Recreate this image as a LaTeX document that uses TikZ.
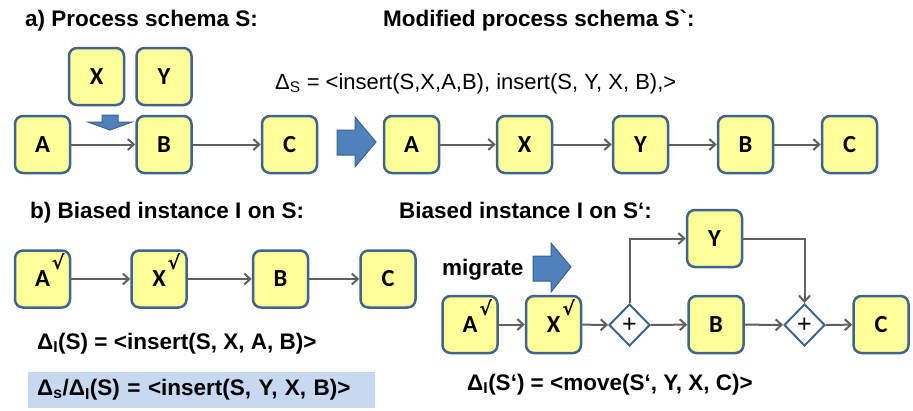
\documentclass[tikz,border=0pt]{standalone}
\usepackage{fontspec}
\setmainfont{Liberation Sans}
\newfontfamily\boxfont{Carlito}
\newfontfamily\symfont{DejaVu Sans}
\usetikzlibrary{arrows.meta,shapes.geometric}

\definecolor{taskfill}{HTML}{FFFF99}
\definecolor{taskline}{HTML}{41648F}
\definecolor{flowgray}{HTML}{606060}
\definecolor{shiftfill}{HTML}{4F81BD}
\definecolor{shiftline}{HTML}{3A6291}
\definecolor{deltabg}{HTML}{C6D9F1}

\newcommand{\done}{\rlap{\smash{\hspace{2pt}\raisebox{17pt}{\symfont\fontsize{19}{19}\selectfont √}}}}

\tikzset{
  task/.style={draw=taskline, line width=2.5pt, fill=taskfill, rounded corners=8pt,
    minimum width=55pt, minimum height=57pt, inner sep=0pt,
    font=\boxfont\bfseries\fontsize{24.5}{24.5}\selectfont},
  gate/.style={diamond, draw=taskline, line width=2pt, fill=white,
    minimum width=41pt, minimum height=42pt, inner sep=0pt,
    font=\fontsize{25}{25}\selectfont},
  flow/.style={draw=flowgray, line width=2pt, -{Straight Barb[length=6pt,width=11pt]}},
  heading/.style={anchor=base west, inner sep=0pt, font=\bfseries\fontsize{22.5}{26}\selectfont},
  delta/.style={anchor=base west, inner sep=0pt, font=\fontsize{22}{26}\selectfont},
  deltabold/.style={anchor=base west, inner sep=0pt, font=\bfseries\fontsize{22.5}{26}\selectfont},
  bigshift/.style={fill=shiftfill, draw=shiftline, line width=1pt}
}

\begin{document}
\begin{tikzpicture}[x=1pt,y=-1pt]
\useasboundingbox (0,0) rectangle (913,410);

\node[heading] (ta) at (25,26) {a) Process schema S:};
\node[heading] (tm) at (383,26) {Modified process schema S\textasciigrave:};
\node[heading] (tb) at (30,218) {b) Biased instance I on S:};
\node[heading] (tbm) at (399,218) {Biased instance I on S‘:};

\node[delta] (ds) at (275,89) {Δ\textsubscript{S} = <insert(S,X,A,B), insert(S, Y, X, B),>};

\node[task] (a1) at (42.5,144.5) {A};
\node[task] (x1) at (96.5,76.5) {X};
\node[task] (y1) at (164,76.5) {Y};
\node[task] (b1) at (164,144.5) {B};
\node[task] (c1) at (289.5,144.5) {C};
\draw[flow] (a1) -- (b1);
\draw[flow] (b1) -- (c1);
\draw[bigshift] (102,115) -- (118,115) -- (118,122) -- (132,122) -- (110,130) -- (88,122) -- (102,122) -- cycle;

\draw[bigshift] (337,130) -- (355,130) -- (355,117) -- (376,142) -- (355,167) -- (355,155) -- (337,155) -- cycle;

\node[task] (a2) at (411.5,144.5) {A};
\node[task] (x2) at (524.5,144.5) {X};
\node[task] (y2) at (640.5,144.5) {Y};
\node[task] (b2) at (745.5,144.5) {B};
\node[task] (c2) at (849.5,144.5) {C};
\draw[flow] (a2) -- (x2);
\draw[flow] (x2) -- (y2);
\draw[flow] (y2) -- (b2);
\draw[flow] (b2) -- (c2);

\node[task] (a3) at (42.5,279) {A\done};
\node[task] (x3) at (159,279) {X\done};
\node[task] (b3) at (280.5,279) {B};
\node[task] (c3) at (388,279) {C};
\draw[flow] (a3) -- (x3);
\draw[flow] (x3) -- (b3);
\draw[flow] (b3) -- (c3);

\node[deltabold] (di) at (37,349) {Δ\textsubscript{I}(S) = <insert(S, X, A, B)>};
\node[fill=deltabg, anchor=west, minimum height=36pt, text width=329pt, inner xsep=9pt,
  inner ysep=0pt, align=left, font=\bfseries\fontsize{22.5}{26}\selectfont] (dsi) at (28,390)
  {Δ\textsubscript{s}/Δ\textsubscript{I}(S) = <insert(S, Y, X, B)>};

\node[deltabold] (mig) at (442,275) {migrate};
\draw[bigshift] (533,256) -- (551,256) -- (551,243) -- (571,267) -- (551,292) -- (551,281) -- (533,281) -- cycle;

\node[task] (a4) at (470,324.5) {A\done};
\node[task] (x4) at (553.5,324.5) {X\done};
\node[gate] (g1) at (629.5,325) {+};
\node[task] (b4) at (716,324.5) {B};
\node[gate] (g2) at (804.5,325) {+};
\node[task] (c4) at (881,324.5) {C};
\node[task] (y4) at (714.5,238.5) {Y};
\draw[flow] (a4) -- (x4);
\draw[flow] (x4) -- (g1);
\draw[flow] (g1) -- (b4);
\draw[flow] (b4) -- (g2);
\draw[flow] (g2) -- (c4);
\draw[flow] (g1.north) |- (y4.west);
\draw[flow] (y4.east) -| (g2.north);

\node[deltabold] (dim) at (467,390) {Δ\textsubscript{I}(S‘) = <move(S‘, Y, X, C)>};
\end{tikzpicture}
\end{document}
